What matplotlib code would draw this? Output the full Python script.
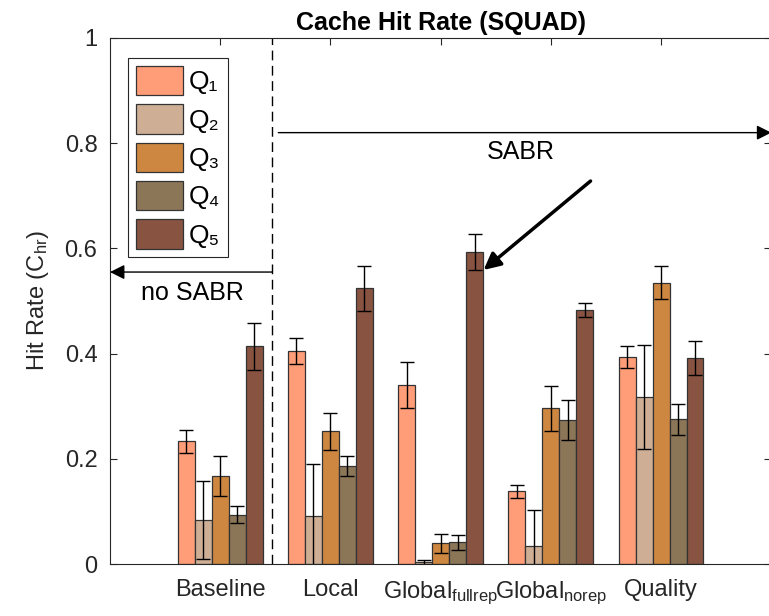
import numpy as np
import matplotlib
matplotlib.use("Agg")
import matplotlib.pyplot as plt

plt.rcParams['font.family'] = ['Liberation Sans', 'DejaVu Sans']
plt.rcParams['mathtext.fontset'] = 'custom'
plt.rcParams['mathtext.rm'] = 'Liberation Sans'
plt.rcParams['mathtext.it'] = 'Liberation Sans'

# hit rate per scheme, one list per query class
schemes = ["Baseline", "Local", "Global$_{\\mathregular{fullrep}}$",
           "Global$_{\\mathregular{norep}}$", "Quality"]
series = ["Q\u2081", "Q\u2082", "Q\u2083", "Q\u2084", "Q\u2085"]

q1 = [0.233, 0.405, 0.340, 0.138, 0.393]
q2 = [0.084, 0.091, 0.003, 0.034, 0.318]
q3 = [0.168, 0.252, 0.039, 0.296, 0.535]
q4 = [0.094, 0.186, 0.041, 0.273, 0.275]
q5 = [0.414, 0.524, 0.593, 0.483, 0.392]

q1_err = [0.022, 0.025, 0.044, 0.012, 0.021]
q2_err = [0.074, 0.100, 0.004, 0.068, 0.099]
q3_err = [0.038, 0.035, 0.018, 0.043, 0.032]
q4_err = [0.016, 0.019, 0.014, 0.038, 0.030]
q5_err = [0.045, 0.043, 0.034, 0.013, 0.032]

colors = ["#FF9D78", "#CEAF96", "#CE8741", "#8C7658", "#885441"]

vals = [q1, q2, q3, q4, q5]
errs = [q1_err, q2_err, q3_err, q4_err, q5_err]

fig = plt.figure(figsize=(7.69, 6.16), dpi=100)
ax = fig.add_axes([0.143, 0.0844, 0.860, 0.854])

x = np.arange(1, len(schemes) + 1)
nb = len(series)
groupw = min(0.8, nb / (nb + 1.5))
w = groupw / nb

for i in range(nb):
    xs = x - groupw / 2 + w * (i + 0.5)
    ax.bar(xs, vals[i], w, color=colors[i], edgecolor="#333333",
           linewidth=0.9, label=series[i], zorder=2)
    ax.errorbar(xs, vals[i], yerr=errs[i], fmt="none", ecolor="black",
                elinewidth=1, capsize=5, capthick=1, zorder=3)

ax.set_xlim(0, 6)
ax.set_ylim(0, 1)
ax.set_xticks(x)
ax.set_xticklabels(schemes, fontsize=17, color="#262626")
ax.set_yticks([0, 0.2, 0.4, 0.6, 0.8, 1])
ax.set_yticklabels(["0", "0.2", "0.4", "0.6", "0.8", "1"], fontsize=17,
                   color="#262626")
ax.tick_params(direction="in", top=True, right=True, length=5,
               color="#262626")
ax.tick_params(axis="y", pad=9)
ax.tick_params(axis="x", pad=11)
for s in ax.spines.values():
    s.set_color("#262626")
    s.set_linewidth(0.8)

ax.set_ylabel("Hit Rate (C$_{\\mathregular{hr}}$)", fontsize=17,
              color="#262626", labelpad=10)
ax.set_title("Cache Hit Rate (SQUAD)", fontsize=18, fontweight="bold",
             pad=6)

leg = ax.legend(loc="upper left", bbox_to_anchor=(0.027, 0.962),
                fontsize=19, handlelength=1.8,
                handleheight=1.35, labelspacing=0.33, handletextpad=0.2,
                fancybox=False, edgecolor="#262626", framealpha=1,
                borderpad=0.3, borderaxespad=0)
leg.get_frame().set_linewidth(0.8)

# split between the baseline and the SABR schemes
ax.axvline(1.47, color="black", linestyle=(0, (7, 4)), linewidth=1, zorder=1)

ax.annotate("", xy=(0.0, 0.555), xytext=(1.47, 0.555),
            arrowprops=dict(arrowstyle="-|>", color="black", lw=1,
                            mutation_scale=22, shrinkA=0, shrinkB=0),
            annotation_clip=False)
ax.text(0.745, 0.515, "no SABR", fontsize=18, ha="center", va="center")

ax.annotate("", xy=(6.0, 0.82), xytext=(1.527, 0.82),
            arrowprops=dict(arrowstyle="-|>", color="black", lw=1,
                            mutation_scale=22, shrinkA=0, shrinkB=0),
            annotation_clip=False)
ax.text(3.73, 0.783, "SABR", fontsize=18, ha="center", va="center")

ax.annotate("", xy=(3.39, 0.559), xytext=(4.36, 0.728),
            arrowprops=dict(arrowstyle="-|>", color="black", lw=2.5,
                            mutation_scale=25, shrinkA=0, shrinkB=0))

fig.savefig("out.png", dpi=100)
